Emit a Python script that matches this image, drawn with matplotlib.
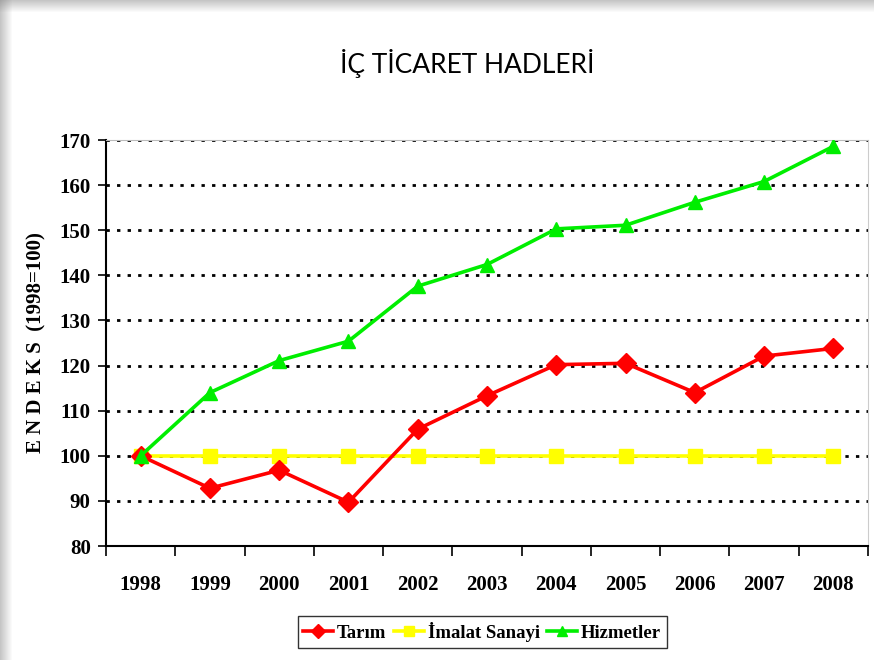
import matplotlib
matplotlib.use("Agg")
import matplotlib.pyplot as plt
import numpy as np
from matplotlib.patches import Rectangle

years = ["1998", "1999", "2000", "2001", "2002", "2003", "2004", "2005", "2006", "2007", "2008"]
tarim = [100.0, 92.8, 96.8, 89.7, 105.9, 113.3, 120.2, 120.5, 114.0, 122.1, 123.8]
imalat = [100, 100, 100, 100, 100, 100, 100, 100, 100, 100, 100]
hizmetler = [100.0, 114.0, 121.1, 125.4, 137.6, 142.4, 150.3, 151.1, 156.2, 160.8, 168.6]
yticks = [80, 90, 100, 110, 120, 130, 140, 150, 160, 170]

fig = plt.figure(figsize=(8.74, 6.6), dpi=100)
fig.patch.set_facecolor("white")

# shadow frame at top and left
for i in range(12):
    a = 0.45 * (1 - i / 12)
    fig.patches.append(Rectangle((0, 1 - (i + 1) / 660), 1, 1 / 660, transform=fig.transFigure,
                                 facecolor=(0.5, 0.5, 0.5, a), edgecolor="none", zorder=0))
    fig.patches.append(Rectangle((i / 874, 0), 1 / 874, 1, transform=fig.transFigure,
                                 facecolor=(0.5, 0.5, 0.5, a), edgecolor="none", zorder=0))

ax = fig.add_axes([106 / 874, 1 - 546 / 660, (868 - 106) / 874, (546 - 140) / 660])
x = np.arange(len(years))

serif = "Liberation Serif"

ax.plot(x, tarim, color="#FF0000", lw=2.6, marker="D", ms=10, label="Tarım", zorder=4)
ax.plot(x, imalat, color="#FFFF00", lw=2.6, marker="s", ms=10, label="İmalat Sanayi", zorder=3)
ax.plot(x, hizmetler, color="#00EE00", lw=2.6, marker="^", ms=10, label="Hizmetler", zorder=5)

ax.set_xlim(-0.5, len(years) - 0.5)
ax.set_ylim(80, 170)
ax.set_yticks(yticks)
ax.set_yticklabels([str(v) for v in yticks], fontfamily=serif, fontweight="bold", fontsize=15)
ax.set_xticks(x)
ax.set_xticklabels(years, fontfamily=serif, fontweight="bold", fontsize=15)
ax.set_xticks(np.arange(-0.5, len(years), 1), minor=True)
ax.tick_params(axis="x", which="major", length=0, pad=21)
ax.tick_params(axis="x", which="minor", length=7, width=1.2, direction="out")
ax.tick_params(axis="y", which="major", length=6, width=1.2, direction="out", pad=5)

for v in yticks[1:]:
    ax.axhline(v, color="black", lw=2.0, linestyle=(0, (1.2, 2.6)), zorder=1)

ax.spines["left"].set_color("black")
ax.spines["left"].set_linewidth(1.5)
ax.spines["bottom"].set_color("black")
ax.spines["bottom"].set_linewidth(1.5)
ax.spines["top"].set_color("#BBBBBB")
ax.spines["right"].set_color("#CCCCCC")

ax.set_ylabel("E N D E K S  (1998=100)", fontfamily=serif, fontweight="bold", fontsize=15, labelpad=9)

fig.text(467 / 874, 1 - 63 / 660, "İÇ TİCARET HADLERİ", ha="center", va="center",
         fontsize=19, fontfamily="Lato")

leg = fig.legend(loc="center", bbox_to_anchor=(482 / 874, 1 - 632 / 660), ncol=3,
                 prop={"family": serif, "weight": "bold", "size": 13.5},
                 frameon=True, fancybox=False, edgecolor="black", handlelength=1.6,
                 handletextpad=0.2, columnspacing=0.4, borderpad=0.3, markerscale=0.7,
                 borderaxespad=0)
leg.get_frame().set_linewidth(1.0)

fig.savefig("out.png", dpi=100)
